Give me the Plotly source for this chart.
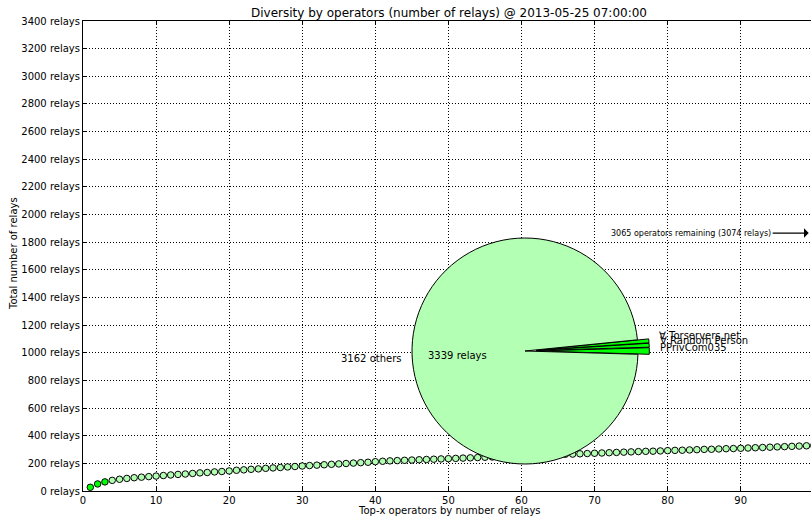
import math
import plotly.graph_objects as go

# ---------------- data ----------------
top_x = list(range(1, 101))
cum_relays = [27, 51, 66, 77, 85, 91, 96, 100, 104, 108,
              112, 116, 120, 123, 127, 131, 134, 138, 141, 145,
              150, 153, 157, 160, 164, 167, 170, 174, 177, 181,
              184, 187, 190, 193, 196, 199, 202, 205, 208, 212,
              215, 218, 220, 222, 224, 226, 228, 230, 232, 234,
              236, 238, 240, 242, 244, 246, 248, 250, 252, 254,
              256, 258, 260, 262, 264, 266, 267, 269, 271, 273,
              275, 277, 279, 281, 283, 285, 287, 288, 290, 292,
              294, 295, 297, 299, 301, 302, 304, 306, 307, 309,
              311, 313, 315, 317, 319, 321, 323, 325, 327, 329]
highlight_count = 3

pie_labels = ["PPrivCom035", "\u2200 Random Person", "\u2200 Torservers.net", "3162 others"]
pie_values = [30, 18, 18, 3162]
pie_inner_text = "3339 relays"

y_ticks = list(range(0, 3401, 200))
y_ticktext = [f"{v} relays" for v in y_ticks]
x_ticks = list(range(0, 100, 10))

remaining_text = "3065 operators remaining (3074 relays)"
remaining_y = 1866

title = "Diversity by operators (number of relays) @ 2013-05-25 07:00:00"
x_title = "Top-x operators by number of relays"
y_title = "Total number of relays"

# ---------------- layout geometry ----------------
W, H = 811, 516
ML, MT, MB, MR = 83, 21, 25, 0
PW, PH = W - ML - MR, H - MT - MB
FONT = "DejaVu Sans, Liberation Sans, sans-serif"
LABEL_PAD = 2.5  # annotation inner padding compensation (px)

def px2paper(px, py):
    return (px - ML) / PW, (H - MB - py) / PH

# pie placement (pixels)
pcx, pcy, pr, pull = 525, 351, 113, 0.1
half = pr * (1 + pull)
dx0, dy0 = px2paper(pcx - half, pcy + half)
dx1, dy1 = px2paper(pcx + half, pcy - half)

light = "#b3ffb3"
lime = "#00ff00"

total = sum(pie_values)
first_angle = 360.0 * pie_values[0] / total

fig = go.Figure()

fig.add_trace(go.Scatter(
    x=top_x, y=cum_relays, mode="markers",
    marker=dict(size=6.5,
                color=[lime if i < highlight_count else light for i in range(len(top_x))],
                line=dict(color="black", width=1)),
    showlegend=False, hoverinfo="skip", cliponaxis=True,
))

# plotly centres the first slice on `rotation`; shift so it starts at 3 o'clock
fig.add_trace(go.Pie(
    labels=pie_labels, values=pie_values, sort=False,
    direction="counterclockwise", rotation=90 - first_angle / 2,
    pull=[pull, pull, pull, 0],
    marker=dict(colors=[lime, lime, lime, light], line=dict(color="black", width=1)),
    textinfo="none", showlegend=False, hoverinfo="skip",
    domain=dict(x=[dx0, dx1], y=[dy0, dy1]),
))

annotations = []
start = 0.0
for i, (lab, val) in enumerate(zip(pie_labels, pie_values)):
    ang = 360.0 * val / total
    mid = math.radians(start + ang / 2)
    start += ang
    if i < highlight_count:
        dist = pr * (1.1 + pull)
    else:
        dist = pr * 1.1
    right_side = math.cos(mid) >= 0
    lx = pcx + dist * math.cos(mid) + (-LABEL_PAD if right_side else LABEL_PAD)
    ly = pcy - dist * math.sin(mid)
    x, y = px2paper(lx, ly)
    annotations.append(dict(
        x=x, y=y, xref="paper", yref="paper", text=lab, showarrow=False,
        xanchor="left" if right_side else "right", yanchor="middle",
        font=dict(family=FONT, size=10, color="black")))
    if i == len(pie_values) - 1:
        ix, iy = px2paper(pcx + 0.6 * pr * math.cos(mid), pcy - 0.6 * pr * math.sin(mid))
        annotations.append(dict(
            x=ix, y=iy, xref="paper", yref="paper", text=pie_inner_text,
            showarrow=False, xanchor="center", yanchor="middle",
            font=dict(family=FONT, size=10, color="black")))

annotations.append(dict(
    x=99.3, y=remaining_y, xref="x", yref="y", text=remaining_text,
    showarrow=True, ax=-36, ay=0, xanchor="right", yanchor="middle",
    arrowhead=1, arrowsize=1.2, arrowwidth=1.3, arrowcolor="black",
    font=dict(family=FONT, size=8, color="black")))

# axis titles (positions given in pixels, converted to paper coords)
xt_x, xt_y = px2paper(449, 510)
annotations.append(dict(
    x=xt_x, y=xt_y, xref="paper", yref="paper", text=x_title,
    showarrow=False, xanchor="center", yanchor="middle",
    font=dict(family=FONT, size=10, color="black")))
yt_x, yt_y = px2paper(13, 254)
annotations.append(dict(
    x=yt_x, y=yt_y, xref="paper", yref="paper", text=y_title,
    showarrow=False, xanchor="center", yanchor="middle", textangle=-90,
    font=dict(family=FONT, size=10, color="black")))

fig.update_layout(
    width=W, height=H,
    margin=dict(l=ML, r=MR, t=MT, b=MB, pad=0, autoexpand=False),
    paper_bgcolor="white", plot_bgcolor="white",
    font=dict(family=FONT, size=10, color="black"),
    title=dict(text=title, x=449 / W, xref="container", xanchor="center",
               y=1 - 13 / H, yref="container", yanchor="middle",
               font=dict(family=FONT, size=12, color="black")),
    annotations=annotations,
    xaxis=dict(range=[0, PW / 7.308], tickvals=x_ticks, ticks="inside", ticklen=4,
               tickcolor="black", showline=True, linecolor="black", linewidth=1,
               mirror="ticks", showgrid=True, gridcolor="black", gridwidth=1,
               griddash="1px,2px", zeroline=False, automargin=False,
               tickfont=dict(size=10)),
    yaxis=dict(range=[0, 3400], tickvals=y_ticks, ticktext=y_ticktext, ticks="inside",
               ticklen=4, tickcolor="black", showline=True, linecolor="black",
               linewidth=1, mirror=False, showgrid=True, gridcolor="black",
               gridwidth=1, griddash="1px,2px", zeroline=False, automargin=False,
               tickfont=dict(size=10)),
)

fig.write_html("out.html", config={"displayModeBar": False},
               post_script="document.body.style.margin='0';document.body.style.overflow='hidden';")
